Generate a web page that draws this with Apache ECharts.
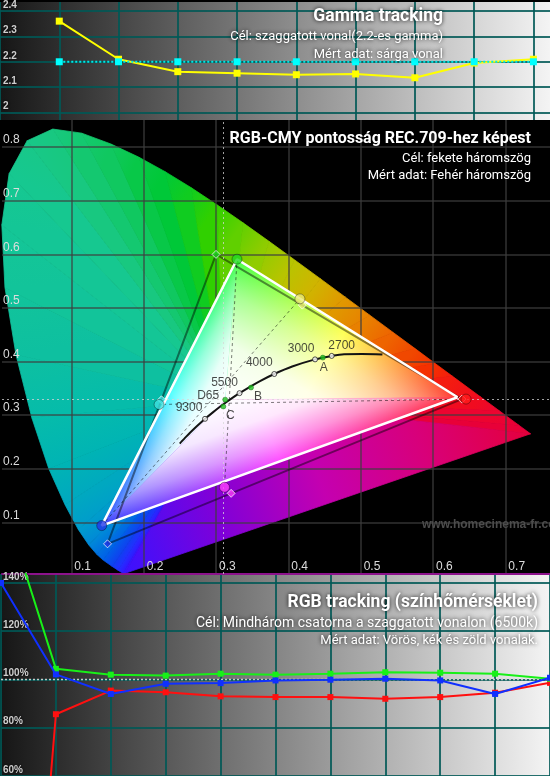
<!DOCTYPE html>
<html><head><meta charset="utf-8">
<script src="https://cdn.jsdelivr.net/npm/echarts@6/dist/echarts.min.js"></script>
<style>html,body{margin:0;padding:0;background:#000}#c{width:550px;height:776px}</style>
</head><body><div id="c"></div>
<script>
// ===== DATA =====
// Gamma tracking
const gammaLevels   = [10, 20, 30, 40, 50, 60, 70, 80, 90];
const gammaMeasured = [2.36, 2.21, 2.161, 2.155, 2.149, 2.152, 2.137, 2.195, 2.21];
const gammaTarget   = [2.2, 2.2, 2.2, 2.2, 2.2, 2.2, 2.2, 2.2, 2.2];
const gammaTicks    = [2.0, 2.1, 2.2, 2.3, 2.4];

// RGB tracking
const rgbLevels = [0, 10, 20, 30, 40, 50, 60, 70, 80, 90, 100];
const rgbRed    = [-190, 85.6, 95.4, 94.7, 93.0, 92.7, 92.7, 92.0, 92.7, 94.5, 98.6];
const rgbGreen  = [176, 104.4, 102.0, 101.6, 102.4, 102.0, 102.4, 103.0, 102.8, 102.4, 100.3];
const rgbBlue   = [140, 102.1, 94.0, 98.2, 98.5, 99.6, 99.9, 100.3, 99.6, 94.0, 100.7];
const rgbTarget = [100, 100, 100, 100, 100, 100, 100, 100, 100, 100, 100];
const rgbTicks  = [60, 80, 100, 120, 140];

// CIE 1931 chart
const cieXTicks = [0.1, 0.2, 0.3, 0.4, 0.5, 0.6, 0.7];
const cieYTicks = [0.1, 0.2, 0.3, 0.4, 0.5, 0.6, 0.7, 0.8];
const whitePoint = [0.3127, 0.3290];
const locusNm = [380,420,440,450,460,465,470,475,480,485,490,495,500,505,510,515,520,525,530,535,540,545,550,555,560,565,570,575,580,585,590,595,600,610,620,640,700];
const locusX = [0.1741,0.1714,0.1644,0.1566,0.1440,0.1355,0.1241,0.1096,0.0913,0.0687,0.0454,0.0235,0.0082,0.0039,0.0139,0.0389,0.0743,0.1142,0.1547,0.1929,0.2296,0.2658,0.3016,0.3373,0.3731,0.4087,0.4441,0.4788,0.5125,0.5448,0.5752,0.6029,0.6270,0.6658,0.6915,0.7190,0.7347];
const locusY = [0.0050,0.0051,0.0109,0.0177,0.0297,0.0399,0.0578,0.0868,0.1327,0.2007,0.2950,0.4127,0.5384,0.6548,0.7502,0.8120,0.8338,0.8262,0.8059,0.7816,0.7543,0.7243,0.6923,0.6589,0.6245,0.5896,0.5547,0.5202,0.4866,0.4544,0.4242,0.3965,0.3725,0.3340,0.3083,0.2809,0.2653];

const primaryNames = ['R', 'G', 'B', 'C', 'M', 'Y'];
const targetX   = [0.640, 0.300, 0.150, 0.2246, 0.3209, 0.4193];
const targetY   = [0.330, 0.600, 0.060, 0.3287, 0.1542, 0.5053];
const measuredX = [0.6456, 0.329, 0.142, 0.2213, 0.3117, 0.416];
const measuredY = [0.330, 0.591, 0.094, 0.320, 0.1655, 0.517];
// white (measured) triangle vertices R, G, B
const measTriX = [0.634, 0.329, 0.142];
const measTriY = [0.3334, 0.591, 0.094];

// Planckian locus
const planckK = [30000,25000,20000,15000,12000,10000,9300,8000,7000,6500,6000,5500,5000,4500,4000,3500,3000,2700,2500,2200,2000];
const planckX = [0.2499,0.2525,0.2565,0.2637,0.2719,0.2807,0.2848,0.2952,0.3064,0.3135,0.3221,0.3325,0.3451,0.3608,0.3805,0.4053,0.4369,0.4599,0.4770,0.5018,0.5300];
const planckY = [0.2470,0.2511,0.2567,0.2668,0.2776,0.2884,0.2932,0.3048,0.3166,0.3236,0.3318,0.3411,0.3516,0.3636,0.3768,0.3907,0.4041,0.4106,0.4137,0.4140,0.4133];
const cctMarks = [9300, 5500, 4000, 3000, 2700];

const illumNames = ['D65', 'C', 'B', 'A'];
const illumX = [0.3127, 0.3101, 0.3484, 0.4476];
const illumY = [0.3290, 0.3162, 0.3516, 0.4074];

// ===== STYLES =====
const locusColors = ['#3a12ff','#3218ff','#2230ff','#1040f0','#0060e8','#0070e0','#0088d8','#009ccc','#00a8c0','#00b4b4','#06bcaa','#0ec0a0','#12c49a','#14c696','#16c890','#18c888','#18c880','#14c870','#10c860','#08c848','#00c838','#10cc20','#30d000','#60d000','#90cc00','#b8c400','#d0b400','#e09800','#e88000','#ee6400','#f04800','#f43000','#f41c10','#f00c20','#ec0430','#e80038','#e4003c'];
const purpleStops = [[0,'#e4003c'],[0.25,'#d8007a'],[0.5,'#c400b0'],[0.75,'#8000d8'],[1,'#3a12ff']];
const pointColors = {R:'#ff1a1a', G:'#22d822', B:'#2238e8', C:'#40e0e0', M:'#ff40ff', Y:'#eaea78'};
const innerVertexColors = ['#ff2a2a', '#3cff3c', '#2a3cff'];
const innerMidColors = ['#ffff40', '#40ffff', '#ff40ff'];
const teal = 'rgba(0,88,86,0.85)';
const panelBg = () => new echarts.graphic.LinearGradient(0, 0, 1, 0, [{offset:0,color:'#161616'},{offset:1,color:'#f4f4f4'}]);
const shadowTxt = {textShadowColor:'rgba(0,0,0,0.9)', textShadowBlur:3};

// ===== CHART =====
const chart = echarts.init(document.getElementById('c'), null, {width:550, height:776});

function outerRender(params, api) {
  const w = api.coord(whitePoint);
  const pts = locusX.map((x, i) => api.coord([x, locusY[i]]));
  const children = [];
  for (let i = 0; i < pts.length - 1; i++) {
    const a = pts[i], b = pts[i + 1];
    const g = new echarts.graphic.LinearGradient(a[0], a[1], b[0], b[1],
      [{offset:0, color:locusColors[i]}, {offset:1, color:locusColors[i + 1]}], true);
    children.push({type:'polygon', shape:{points:[w, a, b]}, style:{fill:g, stroke:g, lineWidth:0.8}});
  }
  const a = pts[pts.length - 1], b = pts[0];
  const g = new echarts.graphic.LinearGradient(a[0], a[1], b[0], b[1],
    purpleStops.map(s => ({offset:s[0], color:s[1]})), true);
  children.push({type:'polygon', shape:{points:[w, a, b]}, style:{fill:g, stroke:g, lineWidth:0.8}});
  return {type:'group', children};
}

function innerRender(params, api) {
  const w = api.coord(whitePoint);
  const V = measTriX.map((x, i) => api.coord([x, measTriY[i]]));
  const children = [];
  for (let i = 0; i < 3; i++) {
    const p = V[i], q = V[(i + 1) % 3];
    const g = new echarts.graphic.LinearGradient(p[0], p[1], q[0], q[1], [
      {offset:0, color:innerVertexColors[i]},
      {offset:0.5, color:innerMidColors[i]},
      {offset:1, color:innerVertexColors[(i + 1) % 3]}], true);
    children.push({type:'polygon', shape:{points:[w, p, q]}, style:{fill:g, stroke:g, lineWidth:0.6}});
  }
  for (let i = 0; i < 3; i++) {
    const p = V[i], q = V[(i + 1) % 3];
    const dx = q[0] - p[0], dy = q[1] - p[1];
    const t = ((w[0] - p[0]) * dx + (w[1] - p[1]) * dy) / (dx * dx + dy * dy);
    const f = [p[0] + t * dx, p[1] + t * dy];
    const g = new echarts.graphic.LinearGradient(w[0], w[1], f[0], f[1], [
      {offset:0, color:'rgba(255,255,255,1)'},
      {offset:0.4, color:'rgba(255,255,255,0.88)'},
      {offset:0.75, color:'rgba(255,255,255,0.45)'},
      {offset:1, color:'rgba(255,255,255,0.05)'}], true);
    children.push({type:'polygon', shape:{points:[w, p, q]}, style:{fill:g}});
  }
  return {type:'group', children};
}

const zip = (xs, ys) => xs.map((x, i) => [x, ys[i]]);
const tri = (xs, ys) => { const d = zip(xs, ys); d.push(d[0]); return d; };
const pIdx = n => primaryNames.indexOf(n);
const mPt = n => [measuredX[pIdx(n)], measuredY[pIdx(n)]];

const cctOffsets = {9300:[-16,-11], 5500:[-15,-10], 4000:[-15,-11], 3000:[-14,-11], 2700:[10,-10]};
const illumOffsets = {D65:[-17,-4], C:[7,9], B:[7,9], A:[1,10]};
const cieLabelFont = {color:'#1a1a1a', fontSize:12, fontFamily:'Liberation Sans'};

function dashed(from, to) {
  return {type:'line', xAxisIndex:1, yAxisIndex:1, z:4, silent:true, symbol:'none',
    data:[mPt(from), mPt(to)], lineStyle:{color:'rgba(0,0,0,0.5)', width:1, type:[3,3]}};
}

const option = {
  animation:false,
  backgroundColor:'#000',
  grid:[
    {left:0, top:0, width:550, height:120, show:true, backgroundColor:panelBg(), borderWidth:0},
    {left:0, top:120, width:550, height:454, show:true, backgroundColor:'#000', borderWidth:0},
    {left:0, top:574, width:550, height:202, show:true, backgroundColor:panelBg(), borderWidth:0}
  ],
  xAxis:[
    {gridIndex:0, type:'value', min:0, max:92.8, interval:10, z:2,
      axisLine:{show:false}, axisTick:{show:false}, axisLabel:{show:false},
      splitLine:{show:true, showMaxLine:false, lineStyle:{color:teal, width:2}}},
    {gridIndex:1, type:'value', min:0.00413, max:0.7617, z:2,
      axisLine:{show:true, onZero:false, lineStyle:{color:'#8c128c', width:2}},
      axisTick:{show:false, customValues:cieXTicks},
      axisLabel:{customValues:cieXTicks, inside:true, margin:1, align:'left', padding:[0,0,0,3],
        color:'#dcdcdc', fontSize:12, fontFamily:'Liberation Sans', formatter:v => v.toFixed(1)},
      splitLine:{show:true, lineStyle:{color:'rgba(62,62,62,0.8)', width:1.5}}},
    {gridIndex:2, type:'value', min:0, max:100, interval:10, z:2,
      axisLine:{show:false}, axisTick:{show:false}, axisLabel:{show:false},
      splitLine:{show:true, lineStyle:{color:teal, width:2}}}
  ],
  yAxis:[
    {gridIndex:0, type:'value', min:1.9706, max:2.435, z:2,
      axisLine:{show:false}, axisTick:{show:false, customValues:gammaTicks},
      axisLabel:{customValues:gammaTicks, inside:true, margin:3, verticalAlign:'bottom', padding:[0,0,1,0],
        color:'#cfcfcf', fontSize:10, fontWeight:'bold', fontFamily:'Liberation Sans', ...shadowTxt,
        formatter:v => String(Math.round(v * 10) / 10)},
      splitLine:{show:true, lineStyle:{color:teal, width:2}}},
    {gridIndex:1, type:'value', min:0.0037, max:0.8507, z:2,
      axisLine:{show:false}, axisTick:{show:false, customValues:cieYTicks},
      axisLabel:{customValues:cieYTicks, inside:true, margin:1, verticalAlign:'bottom', padding:[0,0,1,0],
        color:'#dcdcdc', fontSize:12, fontFamily:'Liberation Sans', formatter:v => v.toFixed(1)},
      splitLine:{show:true, lineStyle:{color:'rgba(62,62,62,0.8)', width:1.5}}},
    {gridIndex:2, type:'value', min:60, max:143.7, interval:20, z:2,
      axisLine:{show:false}, axisTick:{show:false},
      axisLabel:{inside:true, margin:2, verticalAlign:'bottom', padding:[0,0,1,0],
        color:'#cfcfcf', fontSize:10, fontWeight:'bold', fontFamily:'Liberation Sans', ...shadowTxt,
        formatter:v => rgbTicks.includes(v) ? v + '%' : ''},
      splitLine:{show:true, showMaxLine:false, lineStyle:{color:teal, width:2}}}
  ],
  graphic:[
    {type:'text', x:443, y:17, z:100, style:{text:'Gamma tracking', fill:'#fff', font:'bold 17.5px Roboto', align:'right', verticalAlign:'middle', ...shadowTxt, textShadowBlur:4}},
    {type:'text', x:443, y:37, z:100, style:{text:'Cél: szaggatott vonal(2.2-es gamma)', fill:'#fff', font:'13px Roboto', align:'right', verticalAlign:'middle', ...shadowTxt, textShadowBlur:4}},
    {type:'text', x:443, y:55, z:100, style:{text:'Mért adat: sárga vonal', fill:'#fff', font:'13px Roboto', align:'right', verticalAlign:'middle', ...shadowTxt, textShadowBlur:4}},
    {type:'text', x:531, y:139, z:100, style:{text:'RGB-CMY pontosság REC.709-hez képest', fill:'#fff', font:'bold 16px Roboto', align:'right', verticalAlign:'middle'}},
    {type:'text', x:531, y:159, z:100, style:{text:'Cél: fekete háromszög', fill:'#fff', font:'13px Roboto', align:'right', verticalAlign:'middle'}},
    {type:'text', x:531, y:176, z:100, style:{text:'Mért adat: Fehér háromszög', fill:'#fff', font:'13px Roboto', align:'right', verticalAlign:'middle'}},
    {type:'text', x:422, y:525, z:100, style:{text:'www.homecinema-fr.com', fill:'#4c4c4c', font:'bold 12px Liberation Sans', align:'left', verticalAlign:'middle'}},
    {type:'text', x:538, y:603, z:100, style:{text:'RGB tracking (színhőmérséklet)', fill:'#fff', font:'bold 17.5px Roboto', align:'right', verticalAlign:'middle', ...shadowTxt, textShadowBlur:4}},
    {type:'text', x:538, y:623, z:100, style:{text:'Cél: Mindhárom csatorna a szaggatott vonalon (6500k)', fill:'#fff', font:'14px Roboto', align:'right', verticalAlign:'middle', ...shadowTxt, textShadowBlur:4}},
    {type:'text', x:538, y:641, z:100, style:{text:'Mért adat: Vörös, kék és zöld vonalak.', fill:'#fff', font:'13px Roboto', align:'right', verticalAlign:'middle', ...shadowTxt, textShadowBlur:4}}
  ],
  series:[
    // ---- Gamma ----
    {type:'line', xAxisIndex:0, yAxisIndex:0, z:4, data:zip(gammaLevels, gammaMeasured),
      symbol:'rect', symbolSize:7, itemStyle:{color:'#ffff00'}, lineStyle:{color:'#ffff00', width:2}},
    {type:'line', xAxisIndex:0, yAxisIndex:0, z:5, data:zip(gammaLevels, gammaTarget),
      symbol:'rect', symbolSize:7, itemStyle:{color:'#00ffff'}, lineStyle:{color:'#00e8e8', width:2, type:'dotted'}},
    // ---- CIE ----
    {type:'custom', xAxisIndex:1, yAxisIndex:1, z:1, silent:true, data:[whitePoint], renderItem:outerRender},
    {type:'custom', xAxisIndex:1, yAxisIndex:1, z:3, silent:true, data:[whitePoint], renderItem:innerRender},
    {type:'line', xAxisIndex:1, yAxisIndex:1, z:4, silent:true, symbol:'none',
      data:tri(targetX.slice(0, 3), targetY.slice(0, 3)),
      lineStyle:{color:'rgba(0,0,0,0.45)', width:2},
      markLine:{silent:true, symbol:'none', label:{show:false},
        lineStyle:{color:'rgba(215,215,215,0.75)', width:1, type:[2,3]},
        data:[{xAxis:whitePoint[0]}, {yAxis:whitePoint[1]}]}},
    dashed('B', 'Y'), dashed('G', 'M'), dashed('R', 'C'),
    {type:'line', xAxisIndex:1, yAxisIndex:1, z:5, silent:true, symbol:'none', smooth:0.3,
      data:zip(planckX, planckY), lineStyle:{color:'#141414', width:2}},
    {type:'line', xAxisIndex:1, yAxisIndex:1, z:6, silent:true, symbol:'none',
      data:tri(measTriX, measTriY), lineStyle:{color:'#ffffff', width:2.5}},
    {type:'scatter', xAxisIndex:1, yAxisIndex:1, z:7, silent:true, symbol:'circle', symbolSize:5,
      itemStyle:{color:'#ffffff', borderColor:'#222', borderWidth:1},
      data:cctMarks.map(k => { const i = planckK.indexOf(k); return {value:[planckX[i], planckY[i]], name:String(k),
        label:{show:true, formatter:String(k), position:'inside', offset:cctOffsets[k], ...cieLabelFont}}; })},
    {type:'scatter', xAxisIndex:1, yAxisIndex:1, z:7, silent:true, symbol:'circle', symbolSize:5,
      itemStyle:{color:'#1fc21f', borderColor:'#0a5a0a', borderWidth:0.5},
      data:illumNames.map((n, i) => ({value:[illumX[i], illumY[i]], name:n,
        label:{show:true, formatter:n, position:'inside', offset:illumOffsets[n], ...cieLabelFont}}))},
    {type:'scatter', xAxisIndex:1, yAxisIndex:1, z:8, silent:true, symbol:'diamond', symbolSize:8,
      data:primaryNames.map((n, i) => ({value:[targetX[i], targetY[i]],
        itemStyle:{color:pointColors[n], borderColor:'rgba(255,255,255,0.9)', borderWidth:1}}))},
    {type:'scatter', xAxisIndex:1, yAxisIndex:1, z:9, silent:true, symbol:'circle', symbolSize:10,
      data:primaryNames.map((n, i) => ({value:[measuredX[i], measuredY[i]],
        itemStyle:{color:pointColors[n], borderColor:'rgba(0,0,0,0.45)', borderWidth:1}}))},
    // ---- RGB ----
    {type:'line', xAxisIndex:2, yAxisIndex:2, z:4, data:zip(rgbLevels, rgbTarget),
      symbol:'none', lineStyle:{color:'#c8c8c8', width:1.5, type:[2,2]}},
    {type:'line', xAxisIndex:2, yAxisIndex:2, z:5, data:zip(rgbLevels, rgbRed),
      symbol:'rect', symbolSize:6, itemStyle:{color:'#ff1010'}, lineStyle:{color:'#ff1010', width:2}},
    {type:'line', xAxisIndex:2, yAxisIndex:2, z:6, data:zip(rgbLevels, rgbGreen),
      symbol:'rect', symbolSize:6, itemStyle:{color:'#18f018'}, lineStyle:{color:'#18f018', width:2}},
    {type:'line', xAxisIndex:2, yAxisIndex:2, z:7, data:zip(rgbLevels, rgbBlue),
      symbol:'rect', symbolSize:6, itemStyle:{color:'#1030ff'}, lineStyle:{color:'#1030ff', width:2}}
  ]
};
chart.setOption(option);
</script>
</body></html>
